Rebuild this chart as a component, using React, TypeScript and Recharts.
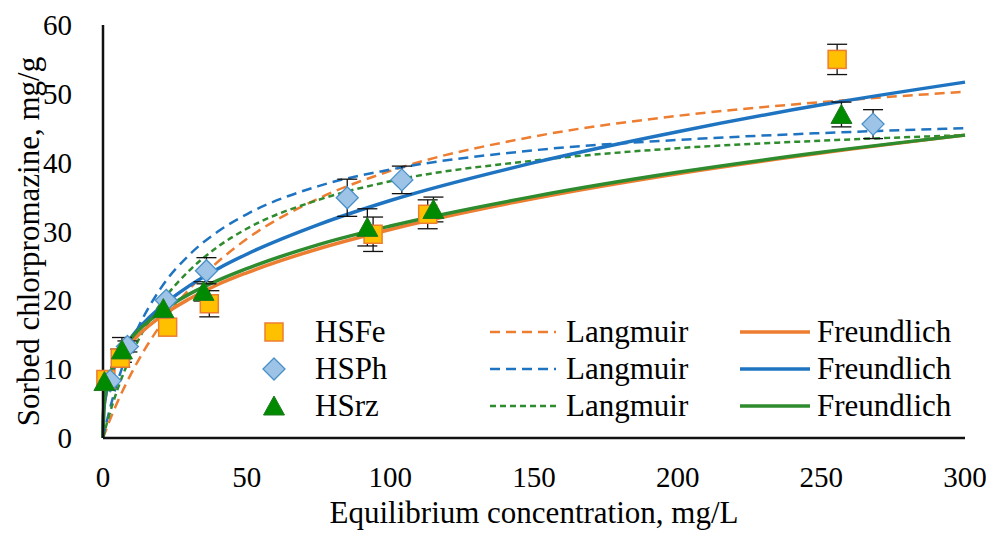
import React from 'react';
import {
  ComposedChart,
  Line,
  Scatter,
  ErrorBar,
  XAxis,
  YAxis,
} from 'recharts';

// measured points (x = equilibrium conc., y = sorbed amount, err = std dev)
const hsFe = [
  { x: 1, y: 8.5, err: null },
  { x: 6, y: 11.6, err: 1.3 },
  { x: 22.5, y: 16.1, err: null },
  { x: 37, y: 19.5, err: 1.9 },
  { x: 94, y: 29.6, err: 2.5 },
  { x: 113, y: 32.5, err: 2.1 },
  { x: 255.5, y: 55, err: 2.2 },
];

const hsPh = [
  { x: 2.5, y: 8.3, err: null },
  { x: 8.5, y: 13.3, err: 0.8 },
  { x: 22, y: 20, err: null },
  { x: 36, y: 24.3, err: 1.9 },
  { x: 85, y: 34.9, err: 2.7 },
  { x: 104, y: 37.5, err: 2 },
  { x: 268, y: 45.6, err: 2.1 },
];

const hsRz = [
  { x: 0.5, y: 8.2, err: null },
  { x: 6.6, y: 12.8, err: 1.8 },
  { x: 21, y: 18.8, err: null },
  { x: 35, y: 21.3, err: 1.4 },
  { x: 92, y: 30.6, err: 2.7 },
  { x: 115, y: 33.2, err: 1.8 },
  { x: 257, y: 47, err: 1.8 },
];

// model curves
const curveX = [0, 0.25, 1, 2, 5, 10, 20, 30, 40, 50, 75, 100, 150, 200, 250, 300];
const langFe = [0, 0.3, 1.1, 2.2, 5.2, 9.5, 16.4, 21.6, 25.6, 28.9, 34.8, 38.8, 43.8, 46.8, 48.8, 50.3];
const langPh = [0, 0.5, 1.9, 3.6, 8.1, 13.9, 21.7, 26.6, 30.0, 32.5, 36.6, 39.0, 41.8, 43.3, 44.3, 45.0];
const langRz = [0, 0.4, 1.6, 3.1, 7.0, 12.2, 19.5, 24.3, 27.8, 30.4, 34.6, 37.3, 40.3, 42.1, 43.2, 44.0];
const freuFe = [0, 4.0, 6.4, 8.1, 11.0, 13.9, 17.6, 20.2, 22.3, 24.0, 27.5, 30.3, 34.8, 38.4, 41.4, 44.0];
const freuPh = [0, 3.8, 6.3, 8.1, 11.4, 14.7, 19.0, 22.1, 24.6, 26.7, 31.0, 34.5, 40.0, 44.5, 48.4, 51.7];
const freuRz = [0, 4.4, 6.9, 8.7, 11.7, 14.6, 18.3, 20.9, 22.9, 24.6, 28.1, 30.8, 35.1, 38.6, 41.5, 44.0];

const xTicks = [0, 50, 100, 150, 200, 250, 300];
const yTicks = [0, 10, 20, 30, 40, 50, 60];

const curves = curveX.map((x, i) => ({
  x,
  langFe: langFe[i],
  langPh: langPh[i],
  langRz: langRz[i],
  freuFe: freuFe[i],
  freuPh: freuPh[i],
  freuRz: freuRz[i],
}));

const ORANGE = '#ED7D31';
const BLUE = '#1F74C1';
const GREEN = '#2E8B2E';
const FONT = "'Liberation Serif', 'Times New Roman', serif";
const txt = { fontFamily: FONT, fill: '#000' };

const Square = (props: any) => {
  const { cx, cy } = props;
  if (cx == null || cy == null) return null;
  return <rect x={cx - 9} y={cy - 9} width={18} height={18} fill="#FFC000" stroke={ORANGE} strokeWidth={1.5} />;
};

const Diamond = (props: any) => {
  const { cx, cy } = props;
  if (cx == null || cy == null) return null;
  return (
    <polygon
      points={`${cx},${cy - 11} ${cx + 11},${cy} ${cx},${cy + 11} ${cx - 11},${cy}`}
      fill="#9DC3E6"
      stroke="#4A90C8"
      strokeWidth={1.3}
    />
  );
};

const Triangle = (props: any) => {
  const { cx, cy } = props;
  if (cx == null || cy == null) return null;
  return (
    <polygon
      points={`${cx},${cy - 10} ${cx + 10.5},${cy + 9} ${cx - 10.5},${cy + 9}`}
      fill="#008A00"
      stroke="#1E7A1E"
      strokeWidth={1}
    />
  );
};

const XTick = (props: any) => {
  const { x, y, payload } = props;
  return (
    <text x={x} y={y + 41} textAnchor="middle" style={{ ...txt, fontSize: 29 }}>
      {payload.value}
    </text>
  );
};

const YTick = (props: any) => {
  const { x, y, payload } = props;
  return (
    <text x={x - 23} y={y + 10} textAnchor="end" style={{ ...txt, fontSize: 29 }}>
      {payload.value}
    </text>
  );
};

const Legend = () => {
  const rows = [
    { label: 'HSFe', color: ORANGE, dash: '10 6', marker: Square },
    { label: 'HSPh', color: BLUE, dash: '10 6', marker: Diamond },
    { label: 'HSrz', color: GREEN, dash: '6 4', marker: Triangle },
  ];
  const ts = { ...txt, fontSize: 31 };
  return (
    <svg width={993} height={536} style={{ position: 'absolute', left: 0, top: 0, pointerEvents: 'none' }}>
      {rows.map((r, i) => {
        const y = 332 + i * 37;
        const M = r.marker;
        return (
          <g key={r.label}>
            <M cx={274} cy={y} />
            <text x={315} y={y + 10} style={ts}>{r.label}</text>
            <line x1={490} x2={556} y1={y} y2={y} stroke={r.color} strokeWidth={2.5} strokeDasharray={r.dash} />
            <text x={566} y={y + 10} style={ts}>Langmuir</text>
            <line x1={740} x2={810} y1={y} y2={y} stroke={r.color} strokeWidth={3.5} />
            <text x={817} y={y + 10} style={ts}>Freundlich</text>
          </g>
        );
      })}
    </svg>
  );
};

export default function App() {
  return (
    <div style={{ position: 'absolute', left: 0, top: 0, width: 993, height: 536, background: '#fff' }}>
      <ComposedChart width={993} height={536} data={curves} margin={{ top: 25, right: 28, bottom: 0, left: 30 }}>
        <XAxis
          dataKey="x"
          type="number"
          domain={[0, 300]}
          ticks={xTicks}
          tick={<XTick />}
          tickLine={false}
          axisLine={{ stroke: '#111', strokeWidth: 2.5 }}
          height={98}
          label={{
            content: (p: any) => {
              const vb = p.viewBox;
              return (
                <text x={vb.x + vb.width / 2} y={vb.y + 85} textAnchor="middle" style={{ ...txt, fontSize: 31 }}>
                  Equilibrium concentration, mg/L
                </text>
              );
            },
          }}
        />
        <YAxis
          type="number"
          domain={[0, 60]}
          ticks={yTicks}
          tick={<YTick />}
          tickLine={false}
          axisLine={{ stroke: '#111', strokeWidth: 2.5 }}
          width={73}
          label={{
            content: (p: any) => {
              const vb = p.viewBox;
              const cx = 28;
              const cy = vb.y + vb.height / 2 + 10;
              return (
                <text x={cx} y={cy} transform={`rotate(-90 ${cx} ${cy})`} textAnchor="middle" dominantBaseline="central" style={{ ...txt, fontSize: 31 }}>
                  Sorbed chlorpromazine, mg/g
                </text>
              );
            },
          }}
        />
        <Line type="monotone" dataKey="langFe" stroke={ORANGE} strokeWidth={2.5} strokeDasharray="10 6" dot={false} isAnimationActive={false} />
        <Line type="monotone" dataKey="langPh" stroke={BLUE} strokeWidth={2.5} strokeDasharray="10 6" dot={false} isAnimationActive={false} />
        <Line type="monotone" dataKey="langRz" stroke={GREEN} strokeWidth={2.5} strokeDasharray="6 4" dot={false} isAnimationActive={false} />
        <Line type="monotone" dataKey="freuFe" stroke={ORANGE} strokeWidth={3.5} dot={false} isAnimationActive={false} />
        <Line type="monotone" dataKey="freuPh" stroke={BLUE} strokeWidth={3.5} dot={false} isAnimationActive={false} />
        <Line type="monotone" dataKey="freuRz" stroke={GREEN} strokeWidth={3.5} dot={false} isAnimationActive={false} />
        <Scatter data={hsFe} dataKey="y" shape={<Square />} isAnimationActive={false}>
          <ErrorBar dataKey="err" direction="y" width={10} stroke="#111" strokeWidth={1.3} />
        </Scatter>
        <Scatter data={hsPh} dataKey="y" shape={<Diamond />} isAnimationActive={false}>
          <ErrorBar dataKey="err" direction="y" width={10} stroke="#111" strokeWidth={1.3} />
        </Scatter>
        <Scatter data={hsRz} dataKey="y" shape={<Triangle />} isAnimationActive={false}>
          <ErrorBar dataKey="err" direction="y" width={10} stroke="#111" strokeWidth={1.3} />
        </Scatter>
      </ComposedChart>
      <Legend />
    </div>
  );
}
